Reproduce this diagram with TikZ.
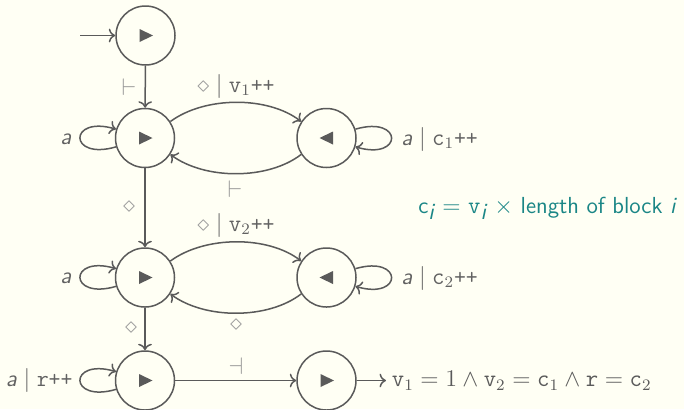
\documentclass[tikz,border=0pt]{standalone}
\usepackage{amssymb}
\usetikzlibrary{arrows.meta}
\definecolor{bg}{HTML}{FFFFF4}
\definecolor{ln}{HTML}{5A5A5A}
\definecolor{lbl}{HTML}{9A9A9A}
\definecolor{txt}{HTML}{626262}
\definecolor{tealx}{HTML}{1A8686}
\newcommand\trir[1]{\fill[ln] (#1) ++(-6,-6.5) -- ++(0,13) -- ++(13.5,-6.5) -- cycle;}
\newcommand\tril[1]{\fill[ln] (#1) ++(6.5,-6.5) -- ++(0,13) -- ++(-13.5,-6.5) -- cycle;}
\newcommand\sep{\;$\mid$\;}
\begin{document}
\begin{tikzpicture}[x=0.5pt,y=-0.5pt,
  font=\sffamily\fontsize{11.6}{14}\selectfont,
  st/.style={circle, draw=ln, line width=0.75pt, minimum size=29.5pt, inner sep=0pt},
  edge/.style={draw=ln, line width=0.75pt, ->},
  sym/.style={text=lbl, inner sep=0pt},
  lab/.style={text=txt, inner sep=0pt}]
\fill[bg] (0,0) rectangle (684,409);
\useasboundingbox (0,0) rectangle (684,409);
% states
\node[st] (s0) at (145.5,35.5) {};
\node[st] (n1) at (145,138) {};
\node[st] (m1) at (326.5,138) {};
\node[st] (n2) at (145,277.5) {};
\node[st] (m2) at (326.5,277.5) {};
\node[st] (n3) at (145,380.5) {};
\node[st] (m3) at (326.5,380.5) {};
\trir{s0}\trir{n1}\tril{m1}\trir{n2}\tril{m2}\trir{n3}\trir{m3}
% initial
\coordinate (init) at (80,35.5);
\draw[edge] (init) -- (s0);
\draw[edge] (s0) -- (n1);
\draw[edge] (n1) -- (n2);
\draw[edge] (n2) -- (n3);
\draw[edge] (n3) -- (m3);
% block 1
\draw[edge] (n1.33) .. controls (205,96) and (268,96) .. (m1.147);
\draw[edge] (m1.213) .. controls (268,180) and (205,180) .. (n1.-33);
\draw[edge] (n1.197) .. controls +(-48,14) and +(-48,-14) .. (n1.163);
\draw[edge] (m1.17) .. controls +(48,-14) and +(48,14) .. (m1.-17);
% block 2
\draw[edge] (n2.33) .. controls (205,235.5) and (268,235.5) .. (m2.147);
\draw[edge] (m2.213) .. controls (268,319.5) and (205,319.5) .. (n2.-33);
\draw[edge] (n2.197) .. controls +(-48,14) and +(-48,-14) .. (n2.163);
\draw[edge] (m2.17) .. controls +(48,-14) and +(48,14) .. (m2.-17);
% block 3
\draw[edge] (n3.197) .. controls +(-48,14) and +(-48,-14) .. (n3.163);
% final
\node[lab, anchor=west, text=ln, inner xsep=2.75pt] (fin) at (386,380.5)
  {$\mathtt{v}_1 = 1 \wedge \mathtt{v}_2 = \mathtt{c}_1 \wedge \mathtt{r} = \mathtt{c}_2$};
\draw[edge] (m3) -- (fin);
% labels
\node[sym] (l1) at (129,87) {$\vdash$};
\node[lab] (l2) at (236,86) {\textcolor{lbl}{$\diamond$}\sep$\mathtt{v}_1$\texttt{++}};
\node[sym] (l3) at (235,189) {$\vdash$};
\node[sym] (l4) at (129,207) {$\diamond$};
\node[lab] (l5) at (236,225) {\textcolor{lbl}{$\diamond$}\sep$\mathtt{v}_2$\texttt{++}};
\node[sym] (l6) at (236,325) {$\diamond$};
\node[sym] (l7) at (131,328) {$\diamond$};
\node[sym] (l8) at (236,366) {$\dashv$};
\node[lab] (a1) at (66,139) {\textit{a}};
\node[lab] (a2) at (66,278) {\textit{a}};
\node[lab, anchor=east] (a3) at (73,380.5) {\textit{a}\sep\texttt{r++}};
\node[lab, anchor=west] (b1) at (401,139) {\textit{a}\sep$\mathtt{c}_1$\texttt{++}};
\node[lab, anchor=west] (b2) at (401,278) {\textit{a}\sep$\mathtt{c}_2$\texttt{++}};
\node[inner sep=0pt, anchor=base west, text=tealx] (note) at (418,213)
  {c$_{\textit{i}}$ $=$ $\mathtt{v}_{\textit{i}}$ $\times$ length of block \textit{i}};
\end{tikzpicture}
\end{document}
